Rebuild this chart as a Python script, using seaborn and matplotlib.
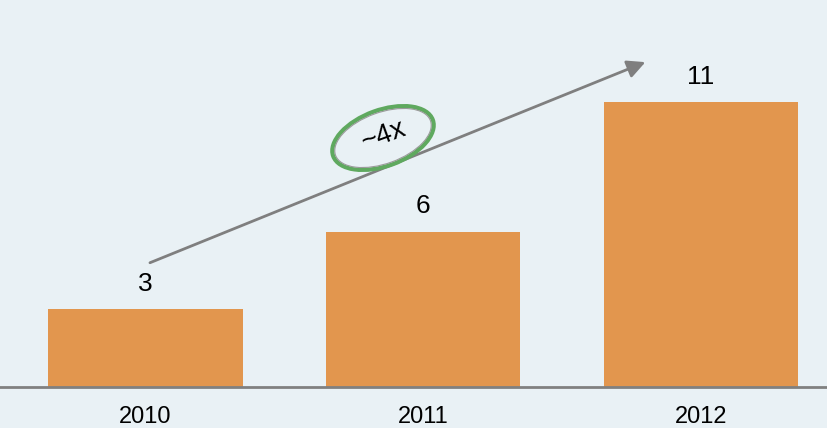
import matplotlib
matplotlib.use("Agg")
import matplotlib.pyplot as plt
import seaborn as sns
import pandas as pd
from matplotlib.patches import Ellipse

years = ["2010", "2011", "2012"]
values = [3, 6, 11]
value_labels = ["3", "6", "11"]
growth_label = "~4x"

BG = "#E9F1F5"
BAR = "#E2964E"

sns.set_theme(style="white")
plt.rcParams["font.family"] = ["Liberation Sans", "DejaVu Sans"]

fig = plt.figure(figsize=(8.27, 4.28), dpi=100, facecolor=BG)
ax = fig.add_axes([0, 41 / 428, 1, 1 - 41 / 428])
ax.set_facecolor(BG)

df = pd.DataFrame({"year": years, "value": values})
sns.barplot(data=df, x="year", y="value", color=BAR, saturation=1, width=0.70,
            linewidth=0, edgecolor=BAR, ax=ax)

ax.set_xlim(-0.524, 2.454)
ax.set_ylim(0, 14.95)

for i, (v, lab) in enumerate(zip(values, value_labels)):
    ax.annotate(lab, (i, v), xytext=(0, 9.5), textcoords="offset points",
                ha="center", va="bottom", fontsize=19, color="black")

for s in ["top", "right", "left"]:
    ax.spines[s].set_visible(False)
ax.spines["bottom"].set_color("#808080")
ax.spines["bottom"].set_linewidth(2)
ax.set_yticks([])
ax.set_xlabel("")
ax.set_ylabel("")
ax.tick_params(axis="x", length=0, labelsize=17, pad=14, colors="black")

# growth arrow
ax.annotate("", xy=(1.80, 12.55), xytext=(0.016, 4.8),
            arrowprops=dict(arrowstyle="-|>,head_length=0.9,head_width=0.45",
                            color="#7F7F7F", lw=2, shrinkA=0, shrinkB=0))

# circled growth label
e1 = Ellipse((3.83, 2.90), 1.06, 0.56, angle=20, transform=fig.dpi_scale_trans,
             fill=False, edgecolor="#5FA95F", lw=3)
e2 = Ellipse((3.83, 2.90), 1.01, 0.51, angle=20, transform=fig.dpi_scale_trans,
             fill=False, edgecolor="#9A9A9A", lw=0.8)
fig.add_artist(e1)
fig.add_artist(e2)
fig.text(3.84 / 8.27, 2.92 / 4.28, growth_label, ha="center", va="center",
         rotation=20, fontsize=20, color="black")

fig.savefig("out.png", dpi=100, facecolor=BG)
